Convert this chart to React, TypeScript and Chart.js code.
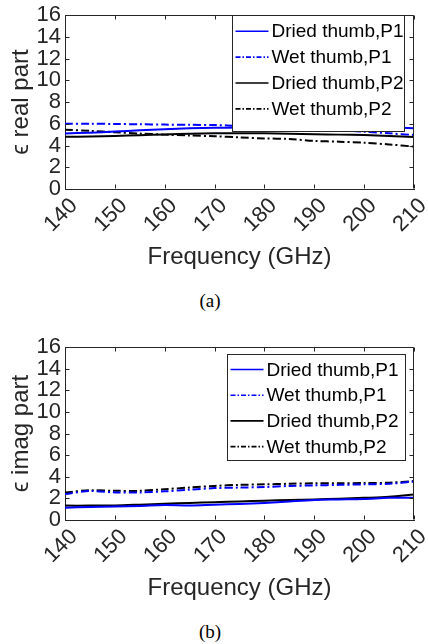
import React, { useEffect, useRef } from 'react';
import { Chart, registerables } from 'chart.js';
Chart.register(...registerables);

const freq = [140, 145, 150, 155, 160, 165, 170, 175, 180, 185, 190, 195, 200, 205, 210];
const seriesLabels = ['Dried thumb,P1', 'Wet thumb,P1', 'Dried thumb,P2', 'Wet thumb,P2'];

const realDriedP1 = [5.1, 5.18, 5.28, 5.4, 5.5, 5.58, 5.63, 5.65, 5.65, 5.62, 5.68, 5.75, 5.78, 5.68, 5.58];
const realWetP1 = [6.0, 6.0, 5.98, 5.95, 5.92, 5.9, 5.88, 5.8, 5.72, 5.62, 5.5, 5.4, 5.27, 5.12, 4.97];
const realDriedP2 = [4.8, 4.83, 4.88, 4.95, 5.02, 5.08, 5.12, 5.13, 5.12, 5.08, 5.03, 5.0, 4.96, 4.88, 4.78];
const realWetP2 = [5.45, 5.35, 5.22, 5.1, 5.0, 4.92, 4.85, 4.75, 4.65, 4.6, 4.42, 4.35, 4.25, 4.1, 3.9];

const imagDriedP1 = [1.14, 1.2, 1.25, 1.3, 1.38, 1.35, 1.42, 1.48, 1.58, 1.72, 1.85, 1.9, 1.95, 2.05, 2.05];
const imagWetP1 = [2.4, 2.68, 2.55, 2.55, 2.65, 2.8, 2.95, 3.0, 3.05, 3.15, 3.2, 3.25, 3.3, 3.35, 3.55];
const imagDriedP2 = [1.33, 1.33, 1.35, 1.42, 1.5, 1.58, 1.65, 1.72, 1.78, 1.85, 1.9, 1.97, 2.05, 2.15, 2.35];
const imagWetP2 = [2.55, 2.75, 2.7, 2.7, 2.85, 3.0, 3.15, 3.25, 3.3, 3.35, 3.4, 3.4, 3.42, 3.45, 3.6];

const xTitle = 'Frequency (GHz)';
const yTitleReal = 'ϵ real part';
const yTitleImag = 'ϵ imag part';

const FONT = "'Liberation Sans', Arial, Helvetica, sans-serif";
const AXIS = '#262626';
const BLUE = '#0000ff';
const BLACK = '#000000';

const seriesStyles = [
  { color: BLUE, dash: [] as number[] },
  { color: BLUE, dash: [8, 3, 2, 3] },
  { color: BLACK, dash: [] as number[] },
  { color: BLACK, dash: [8, 3, 2, 3] },
];
const legendDash = [5, 2, 1.5, 2];

type LegendGeom = { rightInset: number; topInset: number; width: number; height: number; firstRow: number; step: number; lineLen: number };

const boxTicksPlugin = {
  id: 'boxTicks',
  afterDatasetsDraw(chart: any) {
    const { ctx, chartArea } = chart;
    const { left, right, top, bottom } = chartArea;
    ctx.save();
    ctx.strokeStyle = AXIS;
    ctx.lineWidth = 1;
    ctx.beginPath();
    const L = Math.round(left) + 0.5, R = Math.round(right) - 0.5, T = Math.round(top) + 0.5, B = Math.round(bottom) - 0.5;
    ctx.moveTo(L, T); ctx.lineTo(R, T); ctx.lineTo(R, B);
    const tl = 4;
    const xs = chart.scales.x, ys = chart.scales.y;
    xs.ticks.forEach((t: any) => {
      const p = Math.round(xs.getPixelForValue(t.value)) + 0.5;
      ctx.moveTo(p, B); ctx.lineTo(p, B - tl);
      ctx.moveTo(p, T); ctx.lineTo(p, T + tl);
    });
    ys.ticks.forEach((t: any) => {
      const p = Math.round(ys.getPixelForValue(t.value)) + 0.5;
      ctx.moveTo(L, p); ctx.lineTo(L + tl, p);
      ctx.moveTo(R, p); ctx.lineTo(R - tl, p);
    });
    ctx.stroke();
    ctx.restore();
  },
};

const boxLegendPlugin = {
  id: 'boxLegend',
  afterDraw(chart: any, _args: any, opts: any) {
    const g: LegendGeom = opts.geom;
    if (!g) return;
    const { ctx, chartArea } = chart;
    const x0 = Math.round(chartArea.right - g.rightInset - g.width) + 0.5;
    const y0 = Math.round(chartArea.top + g.topInset) + 0.5;
    ctx.save();
    ctx.fillStyle = '#ffffff';
    ctx.fillRect(x0, y0, g.width, g.height);
    ctx.strokeStyle = AXIS;
    ctx.lineWidth = 1;
    ctx.setLineDash([]);
    ctx.strokeRect(x0, y0, g.width, g.height);
    chart.data.datasets.forEach((ds: any, i: number) => {
      const y = y0 + g.firstRow + i * g.step;
      ctx.beginPath();
      ctx.strokeStyle = ds.borderColor;
      ctx.lineWidth = 1.6;
      ctx.setLineDash(ds.borderDash && ds.borderDash.length ? legendDash : []);
      ctx.moveTo(x0 + 3, y);
      ctx.lineTo(x0 + 3 + g.lineLen, y);
      ctx.stroke();
      ctx.setLineDash([]);
      ctx.fillStyle = '#000000';
      ctx.font = `19px ${FONT}`;
      ctx.textBaseline = 'middle';
      ctx.textAlign = 'left';
      ctx.fillText(ds.label, x0 + 3 + g.lineLen + 3, y + 1);
    });
    ctx.restore();
  },
};

type PanelProps = {
  top: number;
  height: number;
  padTop: number;
  yTitle: string;
  data: number[][];
  geom: LegendGeom;
};

function Panel({ top, height, padTop, yTitle, data, geom }: PanelProps) {
  const ref = useRef<HTMLCanvasElement>(null);
  useEffect(() => {
    if (!ref.current) return;
    const chart = new Chart(ref.current, {
      type: 'line',
      data: {
        datasets: data.map((vals, i) => ({
          label: seriesLabels[i],
          data: freq.map((f, j) => ({ x: f, y: vals[j] })),
          borderColor: seriesStyles[i].color,
          borderDash: seriesStyles[i].dash,
          borderWidth: 2,
          pointRadius: 0,
          tension: 0.3,
          fill: false,
        })),
      },
      options: {
        animation: false,
        responsive: false,
        devicePixelRatio: 1,
        layout: { padding: { top: padTop, right: 14, bottom: 0, left: 0 } },
        plugins: {
          legend: { display: false },
          tooltip: { enabled: false },
          boxLegend: { geom },
        } as any,
        scales: {
          x: {
            type: 'linear',
            min: 140,
            max: 210,
            grid: { display: false, drawTicks: false },
            border: { display: true, color: AXIS, width: 1 },
            ticks: {
              stepSize: 10,
              autoSkip: false,
              minRotation: 45,
              maxRotation: 45,
              color: AXIS,
              padding: 4,
              labelOffset: 9,
              font: { family: FONT, size: 22 },
            },
            title: {
              display: true,
              text: xTitle,
              color: AXIS,
              font: { family: FONT, size: 24 },
              padding: { top: 0, bottom: 0 },
            },
            afterFit: (s: any) => {
              s.height = 83;
              s.paddingLeft = 0;
              s.paddingRight = 0;
            },
          },
          y: {
            min: 0,
            max: 16,
            grid: { display: false, drawTicks: false },
            border: { display: true, color: AXIS, width: 1 },
            ticks: {
              stepSize: 2,
              autoSkip: false,
              color: AXIS,
              padding: 4,
              font: { family: FONT, size: 22 },
            },
            title: {
              display: true,
              text: yTitle,
              color: AXIS,
              font: { family: FONT, size: 24 },
              padding: { top: 7, bottom: 0 },
            },
            afterFit: (s: any) => {
              s.width = 65;
              s.paddingTop = 0;
              s.paddingBottom = 0;
            },
          },
        },
      } as any,
      plugins: [boxTicksPlugin, boxLegendPlugin],
    });
    return () => chart.destroy();
  }, []);
  return (
    <div style={{ position: 'absolute', left: 0, top, width: 428, height }}>
      <canvas ref={ref} width={428} height={height} style={{ display: 'block' }} />
    </div>
  );
}

const captionStyle: React.CSSProperties = {
  position: 'absolute',
  left: 0,
  width: 420,
  textAlign: 'center',
  fontFamily: "'Liberation Serif', 'Times New Roman', serif",
  fontSize: 19,
  lineHeight: '20px',
  color: '#000',
};

export default function App() {
  return (
    <div style={{ position: 'absolute', left: 0, top: 0, width: 428, height: 644, background: '#fff' }}>
      <Panel
        top={0}
        height={272}
        padTop={15}
        yTitle={yTitleReal}
        data={[realDriedP1, realWetP1, realDriedP2, realWetP2]}
        geom={{ rightInset: 10, topInset: 0, width: 172, height: 116, firstRow: 15.7, step: 25.9, lineLen: 33 }}
      />
      <div style={{ ...captionStyle, top: 291 }}>(a)</div>
      <Panel
        top={320}
        height={283}
        padTop={27}
        yTitle={yTitleImag}
        data={[imagDriedP1, imagWetP1, imagDriedP2, imagWetP2]}
        geom={{ rightInset: 9, topInset: 7, width: 178, height: 106, firstRow: 15, step: 25.7, lineLen: 33 }}
      />
      <div style={{ ...captionStyle, top: 622 }}>(b)</div>
    </div>
  );
}
